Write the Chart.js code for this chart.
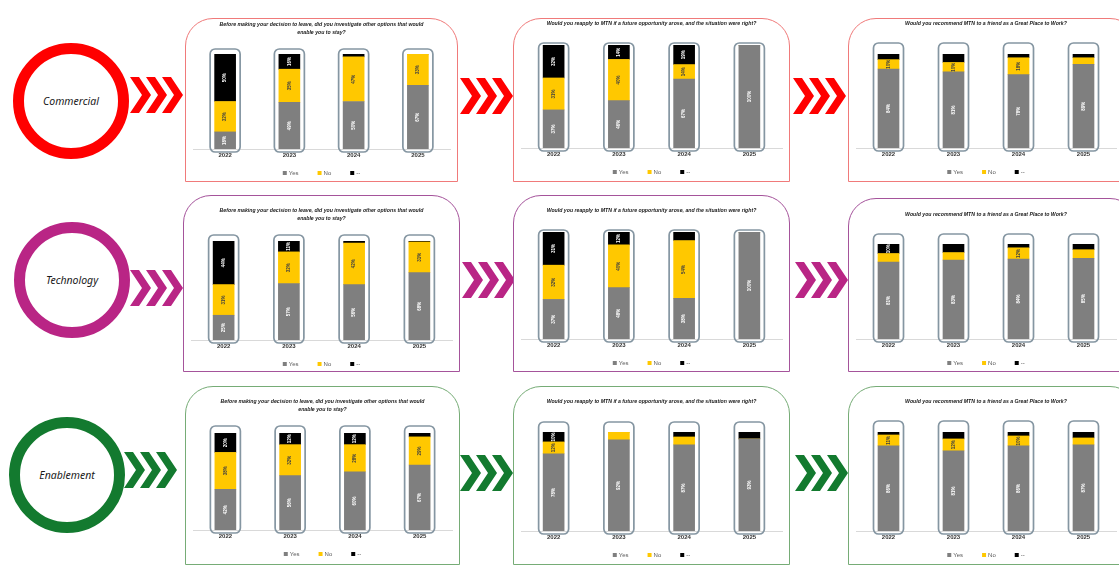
<!DOCTYPE html>
<html>
<head>
<meta charset="utf-8">
<script src="https://cdn.jsdelivr.net/npm/chart.js@4"></script>
<style>
  body { margin: 0; background: #fff; width: 1119px; height: 567px; overflow: hidden; position: relative; font-family: "Liberation Sans", Arial, sans-serif; }
  #deco { position: absolute; left: 0; top: 0; }
  .panel { position: absolute; box-sizing: border-box; border-style: solid; border-width: 1.5px; border-radius: 28px 28px 0 0; background: #fff; }
  canvas { position: absolute; }
</style>
</head>
<body>
<svg id="deco" width="1119" height="567"></svg>

<script>
// categorias y series
const years = ['2022', '2023', '2024', '2025'];
const seriesNames = ['Yes', 'No', '--'];
const groups = ['Commercial', 'Technology', 'Enablement'];

const titleLeave = ['Before making your decision to leave, did you investigate other options that would', 'enable you to stay?'];
const titleReapply = ['Would you reapply to MTN if a future opportunity arose, and the situation were right?'];
const titleRecommend = ['Would you recommend MTN to a friend as a Great Place to Work?'];

// Commercial
const comLeaveYes = [18, 49, 50, 67];
const comLeaveNo = [32, 35, 47, 33];
const comLeaveDash = [50, 16, 3, 0];
const comReapplyYes = [37, 46, 67, 100];
const comReapplyNo = [31, 40, 14, 0];
const comReapplyDash = [32, 14, 19, 0];
const comRecYes = [84, 81, 78, 89];
const comRecNo = [10, 10, 18, 7];
const comRecDash = [6, 9, 4, 4];

// Technology
const techLeaveYes = [25, 57, 56, 68];
const techLeaveNo = [31, 32, 42, 31];
const techLeaveDash = [44, 11, 2, 1];
const techReapplyYes = [37, 48, 38, 100];
const techReapplyNo = [32, 40, 54, 0];
const techReapplyDash = [31, 12, 8, 0];
const techRecYes = [81, 83, 84, 85];
const techRecNo = [9, 8, 12, 9];
const techRecDash = [10, 9, 4, 6];

// Enablement
const enLeaveYes = [42, 56, 60, 67];
const enLeaveNo = [38, 32, 28, 29];
const enLeaveDash = [20, 12, 12, 4];
const enReapplyYes = [78, 92, 87, 93];
const enReapplyNo = [12, 8, 8, 0];
const enReapplyDash = [10, 0, 5, 7];
const enRecYes = [86, 81, 86, 87];
const enRecNo = [11, 12, 10, 7];
const enRecDash = [3, 7, 4, 6];

const FONT = "'Liberation Sans', Arial, sans-serif";
const GRAY = '#7F7F7F', YELLOW = '#FFC800', BLACK = '#000000';

// colores de cada fila y posiciones de los paneles
const rowColors = ['#FF0000', '#B92585', '#137A2F'];
const panelBorders = ['#F07A7A', '#A5539B', '#76AC76'];

const panels = [
  // fila 1
  { row: 0, x: 185, y: 18, w: 273, h: 164, t1: 7, top: 36, bottom: 131, rise: 5, title: titleLeave, d: [comLeaveYes, comLeaveNo, comLeaveDash] },
  { row: 0, x: 513, y: 18, w: 277, h: 164, t1: 6, top: 27, bottom: 130, rise: 2, title: titleReapply, d: [comReapplyYes, comReapplyNo, comReapplyDash] },
  { row: 0, x: 848, y: 18, w: 276, h: 164, t1: 6, top: 36, bottom: 130, rise: 11, title: titleRecommend, d: [comRecYes, comRecNo, comRecDash] },
  // fila 2
  { row: 1, x: 183, y: 195, w: 277, h: 177, t1: 16, top: 46, bottom: 145, rise: 6, title: titleLeave, d: [techLeaveYes, techLeaveNo, techLeaveDash] },
  { row: 1, x: 513, y: 195, w: 277, h: 177, t1: 16, top: 37, bottom: 144, rise: 2, title: titleReapply, d: [techReapplyYes, techReapplyNo, techReapplyDash] },
  { row: 1, x: 848, y: 198, w: 276, h: 174, t1: 17, top: 46, bottom: 141, rise: 10, title: titleRecommend, d: [techRecYes, techRecNo, techRecDash] },
  // fila 3
  { row: 2, x: 185, y: 386, w: 275, h: 179, t1: 16, top: 47, bottom: 144, rise: 7, title: titleLeave, d: [enLeaveYes, enLeaveNo, enLeaveDash] },
  { row: 2, x: 513, y: 386, w: 277, h: 179, t1: 16, top: 46, bottom: 145, rise: 10, title: titleReapply, d: [enReapplyYes, enReapplyNo, enReapplyDash] },
  { row: 2, x: 848, y: 386, w: 276, h: 179, t1: 16, top: 46, bottom: 145, rise: 11, title: titleRecommend, d: [enRecYes, enRecNo, enRecDash] },
];

// circulos y flechas (decoracion)
const circles = [{ cx: 71, cy: 101 }, { cx: 72, cy: 280 }, { cx: 67, cy: 475 }];
const chevrons = [
  [130, 77], [460, 78], [793, 78],
  [130, 270], [462, 262], [795, 262],
  [124, 452], [460, 455], [795, 455],
];

const svg = document.getElementById('deco');
let svgHtml = '';
circles.forEach((c, i) => {
  svgHtml += `<circle cx="${c.cx}" cy="${c.cy}" r="52.5" fill="#fff" stroke="${rowColors[i]}" stroke-width="11"/>`;
  svgHtml += `<text x="${c.cx}" y="${c.cy + 4}" text-anchor="middle" font-family="Noto Sans" font-style="italic" font-size="10.5" fill="#1a1a1a">${groups[i]}</text>`;
});
chevrons.forEach(([x, y], k) => {
  const color = rowColors[Math.floor(k / 3)];
  const h = 36, t = 9, dd = 12;
  for (let n = 0; n < 3; n++) {
    const x0 = x + n * 16;
    const pts = [[x0, y], [x0 + t, y], [x0 + t + dd, y + h / 2], [x0 + t, y + h], [x0, y + h], [x0 + dd, y + h / 2]];
    svgHtml += `<polygon points="${pts.map(p => p.join(',')).join(' ')}" fill="${color}"/>`;
  }
});
svg.innerHTML = svgHtml;

// marco redondeado alrededor de cada barra
const frameBars = {
  id: 'frameBars',
  beforeDatasetsDraw(chart, args, opts) {
    const meta = chart.getDatasetMeta(0);
    const yTop = chart.scales.y.getPixelForValue(100);
    const yBot = chart.chartArea.bottom;
    const ctx = chart.ctx;
    ctx.save();
    ctx.strokeStyle = '#8596A2';
    ctx.lineWidth = 1.7;
    meta.data.forEach((bar) => {
      ctx.beginPath();
      ctx.roundRect(bar.x - 15, yTop - opts.rise, 30, yBot + 3 - (yTop - opts.rise), 5);
      ctx.stroke();
    });
    ctx.restore();
  }
};

// etiquetas de porcentaje verticales dentro de cada segmento
const segLabels = {
  id: 'segLabels',
  afterDatasetsDraw(chart) {
    const ctx = chart.ctx;
    chart.data.datasets.forEach((ds, i) => {
      chart.getDatasetMeta(i).data.forEach((bar, j) => {
        const v = ds.data[j];
        if (!v || Math.abs(bar.base - bar.y) < 9) return;
        ctx.save();
        ctx.translate(bar.x, (bar.y + bar.base) / 2);
        ctx.rotate(-Math.PI / 2);
        ctx.font = `bold 4.5px ${FONT}`;
        ctx.textAlign = 'center';
        ctx.textBaseline = 'middle';
        ctx.fillStyle = ds.backgroundColor === YELLOW ? '#404040' : '#ffffff';
        ctx.fillText(v + '%', 0, 0);
        ctx.restore();
      });
    });
  }
};

// leyenda pequeña dibujada bajo el eje
const miniLegend = {
  id: 'miniLegend',
  afterDraw(chart) {
    const ctx = chart.ctx;
    const y = chart.chartArea.bottom + 24;
    ctx.save();
    ctx.font = `6px ${FONT}`;
    ctx.textBaseline = 'middle';
    const items = chart.data.datasets.map(ds => ({ text: ds.label, color: ds.backgroundColor, w: 6 + ctx.measureText(ds.label).width }));
    const gap = 19;
    const total = items.reduce((s, it) => s + it.w, 0) + gap * (items.length - 1);
    let x = (chart.chartArea.left + chart.chartArea.right) / 2 - total / 2;
    items.forEach(it => {
      ctx.fillStyle = it.color;
      ctx.fillRect(x, y - 2, 4, 4);
      ctx.fillStyle = '#595959';
      ctx.fillText(it.text, x + 6, y + 0.5);
      x += it.w + gap;
    });
    ctx.restore();
  }
};

panels.forEach((p) => {
  const div = document.createElement('div');
  div.className = 'panel';
  div.style.left = p.x + 'px';
  div.style.top = p.y + 'px';
  div.style.width = (p.x > 800 ? 290 : p.w) + 'px';
  div.style.height = p.h + 'px';
  div.style.borderColor = panelBorders[p.row];
  document.body.appendChild(div);

  const canvas = document.createElement('canvas');
  canvas.width = p.w;
  canvas.height = p.h;
  canvas.style.left = p.x + 'px';
  canvas.style.top = p.y + 'px';
  document.body.appendChild(canvas);

  const titleSize = 5.2, lh = 8;
  const axisH = 6 * 1.2 + 6;

  new Chart(canvas, {
    type: 'bar',
    data: {
      labels: years,
      datasets: [
        { label: seriesNames[0], data: p.d[0], backgroundColor: GRAY },
        { label: seriesNames[1], data: p.d[1], backgroundColor: YELLOW },
        { label: seriesNames[2], data: p.d[2], backgroundColor: BLACK },
      ]
    },
    options: {
      responsive: false,
      animation: false,
      devicePixelRatio: 1,
      layout: { padding: { left: 8, right: 8, top: 0, bottom: p.h - p.bottom - axisH } },
      datasets: { bar: { barThickness: 21 } },
      scales: {
        x: {
          stacked: true,
          grid: { display: false, drawTicks: false },
          border: { display: true, color: '#D9D9D9', width: 1 },
          ticks: { color: '#333333', padding: 3, font: { size: 6, weight: 'bold', family: FONT } }
        },
        y: { stacked: true, display: false, min: 0, max: 100 }
      },
      plugins: {
        legend: { display: false },
        tooltip: { enabled: false },
        title: {
          display: true,
          text: p.title,
          color: '#1a1a1a',
          font: { size: titleSize, style: 'italic', weight: 'bold', family: FONT, lineHeight: lh / titleSize },
          padding: { top: p.t1 - lh / 2, bottom: p.top - (p.t1 - lh / 2) - p.title.length * lh }
        },
        frameBars: { rise: p.rise }
      }
    },
    plugins: [frameBars, segLabels, miniLegend]
  });
});
</script>
</body>
</html>
